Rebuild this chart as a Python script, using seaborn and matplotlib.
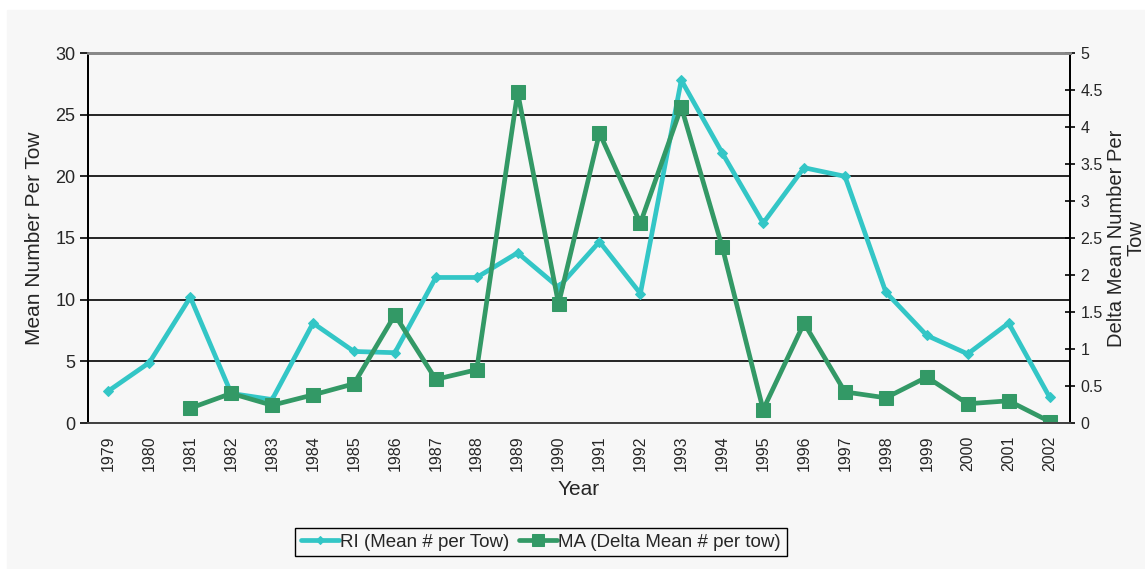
import numpy as np
import pandas as pd
import matplotlib
matplotlib.use("Agg")
import matplotlib.pyplot as plt
from matplotlib.patches import Rectangle
import seaborn as sns

# values
years = list(range(1979, 2003))
ri_mean = [2.6, 4.9, 10.2, 2.4, 1.9, 8.1, 5.8, 5.7, 11.8, 11.8, 13.8, 11.0,
           14.7, 10.5, 27.8, 21.9, 16.2, 20.7, 20.0, 10.6, 7.1, 5.6, 8.1, 2.1]
ma_years = list(range(1981, 2003))
ma_delta = [0.20, 0.40, 0.24, 0.38, 0.53, 1.46, 0.59, 0.72, 4.47, 1.61, 3.92,
            2.70, 4.27, 2.38, 0.18, 1.35, 0.42, 0.34, 0.62, 0.26, 0.30, 0.02]

ri_df = pd.DataFrame({"Year": years, "val": ri_mean})
ma_df = pd.DataFrame({"Year": ma_years, "val": ma_delta})

sns.set_style("white")
plt.rcParams['font.family'] = ['Liberation Sans', 'DejaVu Sans']

bg = '#f7f7f7'
fig = plt.figure(figsize=(11.45, 5.69), dpi=100, facecolor='white')
fig.patches.append(Rectangle((7 / 1145, 0), 1, (569 - 10) / 569,
                             transform=fig.transFigure, color=bg, zorder=-10))
ax = fig.add_axes([88 / 1145, 1 - 423 / 569, (1070 - 88) / 1145, (423 - 53) / 569])
ax.set_facecolor(bg)

ri_col = '#33c6c6'
ma_col = '#339966'

sns.lineplot(data=ri_df, x="Year", y="val", ax=ax, color=ri_col, lw=3.4,
             marker='D', markersize=5, markeredgecolor=ri_col,
             label='RI (Mean # per Tow)', legend=False)
ax.set_ylim(0, 30)
ax.set_yticks(np.arange(0, 31, 5))
ax.set_xlim(1978.5, 2002.5)
ax.grid(axis='y', color='black', lw=1.2)
ax.set_axisbelow(True)

ax2 = ax.twinx()
sns.lineplot(data=ma_df, x="Year", y="val", ax=ax2, color=ma_col, lw=3.4,
             marker='s', markersize=10, markeredgecolor=ma_col,
             label='MA (Delta Mean # per tow)', legend=False)
ax2.set_ylim(0, 5)
ax2.set_yticks(np.arange(0, 5.01, 0.5))
ax2.set_yticklabels(['0', '0.5', '1', '1.5', '2', '2.5', '3', '3.5', '4', '4.5', '5'])
ax2.set_xlim(1978.5, 2002.5)
ax2.set_ylabel('')

# category style x ticks
ax.set_xticks(years)
ax.set_xticklabels([str(y) for y in years], rotation=90, fontsize=11.5)
ax.set_xticks(np.arange(1978.5, 2003, 1), minor=True)
ax.tick_params(axis='x', which='major', length=0, pad=9)
ax.tick_params(axis='x', which='minor', length=6, width=1.2, color='black', direction='out')
ax.tick_params(axis='y', length=6, width=1.2, color='black', direction='out', labelsize=13, pad=3)
ax2.tick_params(axis='y', length=7, width=1.2, color='black', direction='inout', labelsize=11.5, pad=4)

for a in (ax, ax2):
    a.spines['top'].set_color('#888888')
    a.spines['top'].set_linewidth(2)
    a.spines['left'].set_color('black')
    a.spines['left'].set_linewidth(1.4)
    a.spines['right'].set_color('black')
    a.spines['right'].set_linewidth(1.4)
    a.spines['bottom'].set_color('#444444')
    a.spines['bottom'].set_linewidth(1.4)

ax.set_xlabel('Year', fontsize=15, labelpad=6)
ax.set_ylabel('Mean Number Per Tow', fontsize=15, labelpad=8)
fig.text(1126 / 1145, 1 - 238 / 569, 'Delta Mean Number Per\nTow', rotation=90,
         ha='center', va='center', fontsize=14.5, linespacing=1.0)

h1, l1 = ax.get_legend_handles_labels()
h2, l2 = ax2.get_legend_handles_labels()
leg = fig.legend(h1 + h2, l1 + l2, loc='center', bbox_to_anchor=(541 / 1145, 1 - 542 / 569),
                 ncol=2, fontsize=13.5, frameon=True, fancybox=False, framealpha=1,
                 edgecolor='black', facecolor=bg, handlelength=2.0, handletextpad=0.1,
                 columnspacing=0.5, borderpad=0.3, borderaxespad=0, markerscale=0.8)
leg.get_frame().set_linewidth(1.0)

fig.savefig('out.png', dpi=100, facecolor='white')
